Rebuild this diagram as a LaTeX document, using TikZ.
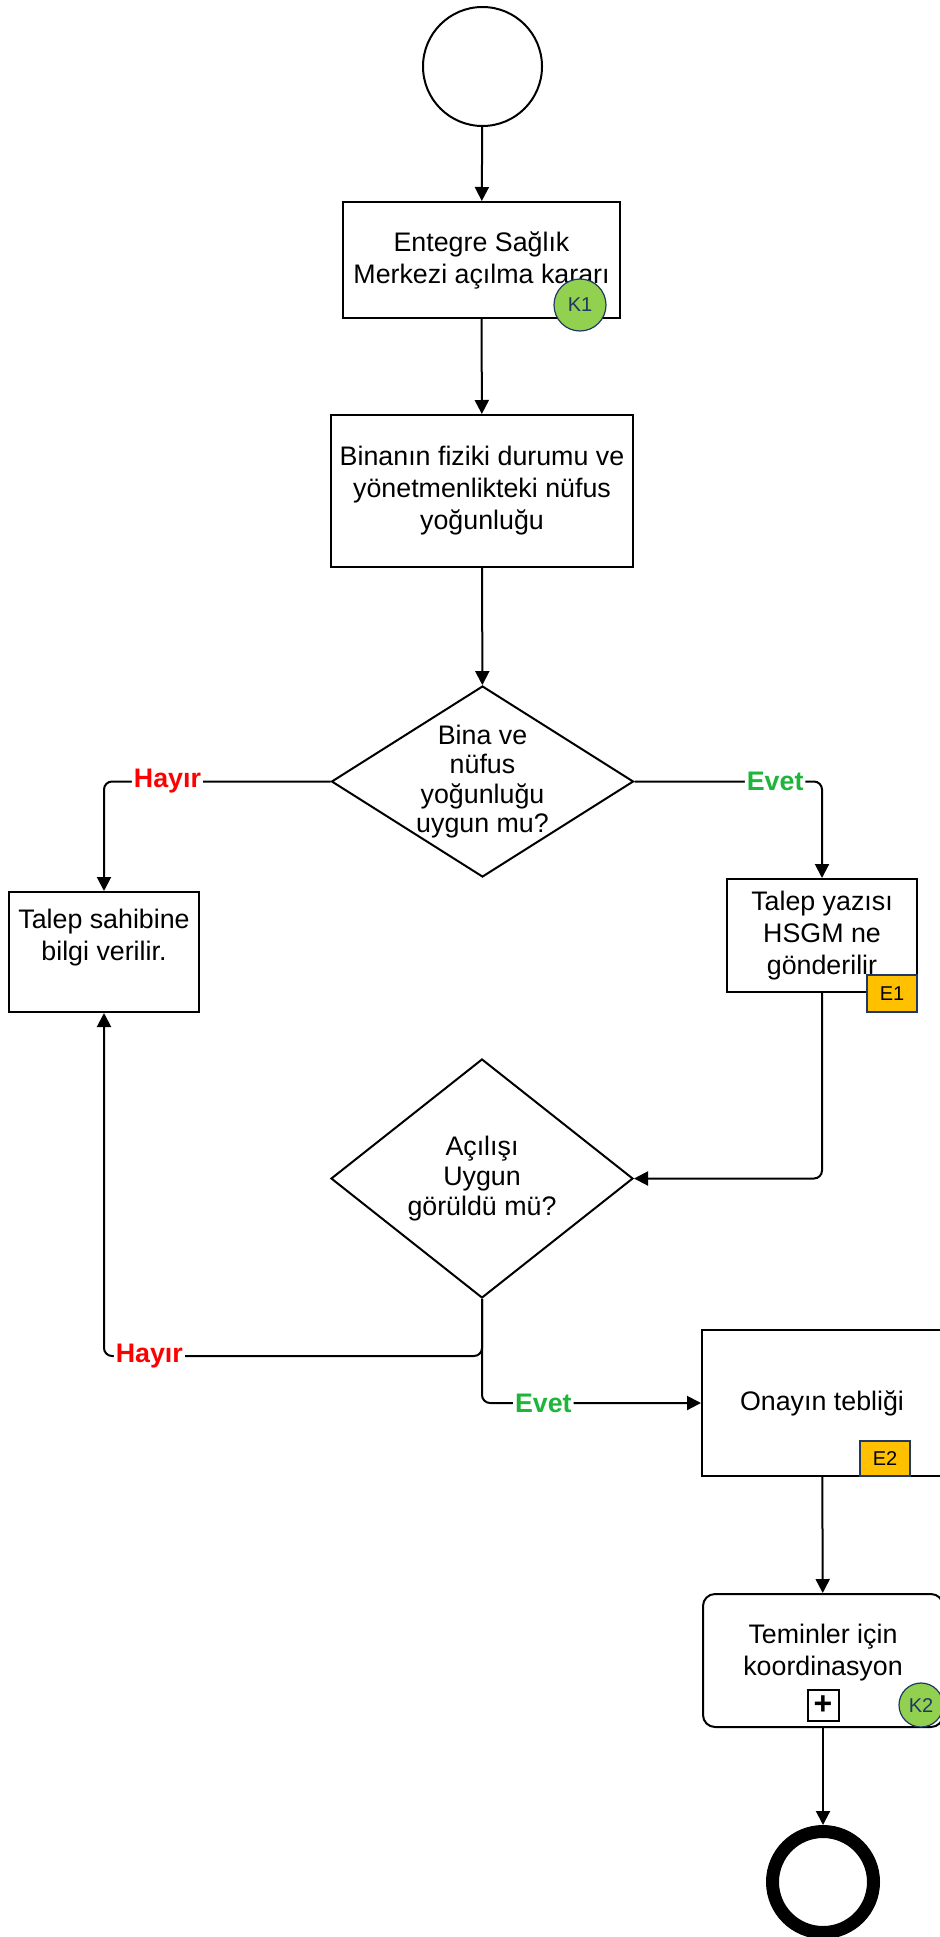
\documentclass[tikz,border=0pt]{standalone}
\usepackage{fontspec}
\setmainfont{Liberation Sans}
\usetikzlibrary{shapes.geometric,arrows.meta}

\definecolor{kgreen}{HTML}{92D050}
\definecolor{eorange}{HTML}{FFC000}
\definecolor{mblue}{HTML}{1F3864}
\definecolor{evetgreen}{HTML}{1DB53A}

\begin{document}
\begin{tikzpicture}[x=0.5pt,y=-0.5pt,line width=1pt,
    font=\fontsize{13.4}{16}\selectfont,
    every node/.style={align=center,inner sep=0pt},
    task/.style={draw,rectangle},
    decision/.style={draw,diamond,minimum width=151pt},
    kbadge/.style={draw=mblue,line width=0.6pt,fill=kgreen,circle,text=mblue,font=\fontsize{10}{10}\selectfont},
    ebadge/.style={draw=mblue,line width=0.6pt,fill=eorange,rectangle,minimum width=25pt,font=\fontsize{10}{10}\selectfont},
    arr/.style={-{Triangle[length=7pt,width=7pt]},rounded corners=4pt},
    hayir/.style={fill=white,inner xsep=1pt,text=red,font=\fontsize{13.4}{16}\selectfont\bfseries},
    evet/.style={fill=white,inner xsep=1pt,text=evetgreen,font=\fontsize{13.4}{16}\selectfont\bfseries}]
\useasboundingbox (0,0) rectangle (939,1937);

\node[draw,circle,minimum size=59.5pt] (start) at (482.5,66.5) {};
\node[task,minimum width=138.5pt,minimum height=58pt] (karar) at (481.5,260) {Entegre Sağlık\\Merkezi açılma kararı};
\node[kbadge,minimum size=26pt] (k1) at (580,305) {K1};
\node[task,minimum width=151pt,minimum height=76pt] (bina) at (482,491) {Binanın fiziki durumu ve\\yönetmenlikteki nüfus\\yoğunluğu};
\node[decision,minimum height=95.5pt,label={[font=\fontsize{13.4}{14.8}\selectfont]center:Bina ve\\nüfus\\yoğunluğu\\uygun mu?}] (d1) at (482.5,781.5) {};
\node[task,minimum width=95pt,minimum height=60pt,text depth=17.7pt] (sahip) at (104,952) {Talep sahibine\\bilgi verilir.};
\node[task,minimum width=95pt,minimum height=56.5pt] (yazi) at (822,935.5) {Talep yazısı\\HSGM ne\\gönderilir};
\node[ebadge,minimum height=18.5pt] (e1) at (892,993.5) {E1};
\node[decision,minimum height=119.5pt,label={[font=\fontsize{13.4}{14.8}\selectfont]center:Açılışı\\Uygun\\görüldü mü?}] (d2) at (482,1178.5) {};
\node[task,minimum width=120pt,minimum height=73pt] (teblig) at (822,1403) {Onayın tebliği};
\node[ebadge,minimum height=17.5pt] (e2) at (885,1458.5) {E2};
\node[task,rounded corners=6pt,minimum width=120pt,minimum height=66.5pt,text depth=10.7pt] (temin) at (823,1660.5) {Teminler için\\koordinasyon};
\node[draw,rectangle,minimum size=15.5pt,font=\fontsize{16}{16}\selectfont\bfseries] (plus) at (823,1705) {+};
\node[kbadge,minimum size=22pt] (k2) at (921,1705) {K2};
\node[draw,circle,line width=6.5pt,minimum size=50.5pt] (bitis) at (823,1882) {};

\draw[arr] (start) -- (karar);
\draw[arr] (karar) -- (bina);
\draw[arr] (bina) -- (d1);
\draw[arr] (d1.west) -| node[hayir,pos=0.36] {Hayır} (sahip.north);
\draw[arr] (d1.east) -| node[evet,pos=0.375] {Evet} (yazi.north);
\draw[arr] (yazi.south) |- (d2.east);
\draw[arr] (d2.south) -- ++(0,57) -| node[hayir,pos=0.44] {Hayır} (sahip.south);
\draw[arr] (d2.south) |- node[evet,pos=0.64] {Evet} (teblig.west);
\draw[arr] (teblig) -- (temin);
\draw[arr] (temin) -- (bitis);
\end{tikzpicture}
\end{document}
